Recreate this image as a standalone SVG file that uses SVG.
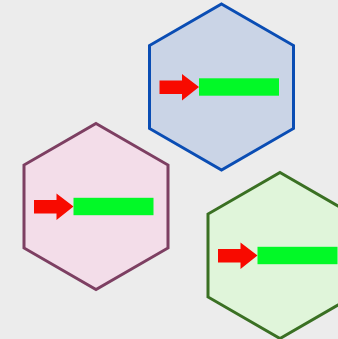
<svg xmlns="http://www.w3.org/2000/svg" xmlns:xlink="http://www.w3.org/1999/xlink" width="338" height="339" viewBox="0 0 338 339">
<style>
.hex{stroke-width:3;stroke-linejoin:miter}
.arrow{fill:#f80a00}
.bar{fill:#02f927}
</style>
<defs>
<polygon id="hexShape" points="0,-83 72,-41.5 72,41.5 0,83 -72,41.5 -72,-41.5"/>
<g id="content">
<polygon class="arrow" points="-62,-6.5 -39.5,-6.5 -39.5,-13 -22.5,0 -39.5,13.5 -39.5,7 -62,7"/>
<rect class="bar" x="-22.5" y="-8.7" width="80" height="17.4"/>
</g>
</defs>
<rect width="338" height="339" fill="#ececec"/>
<g id="node-blue" transform="translate(221.5,87)">
<use xlink:href="#hexShape" class="hex" fill="#cad4e6" stroke="#0a4db4"/>
<use xlink:href="#content"/>
</g>
<g id="node-pink" transform="translate(96,206.5)">
<use xlink:href="#hexShape" class="hex" fill="#f3dde9" stroke="#7d3f62"/>
<use xlink:href="#content"/>
</g>
<g id="node-green" transform="translate(280,255.5)">
<use xlink:href="#hexShape" class="hex" fill="#e0f5da" stroke="#3a7023"/>
<use xlink:href="#content"/>
</g>
<g id="connectors"></g>
</svg>
